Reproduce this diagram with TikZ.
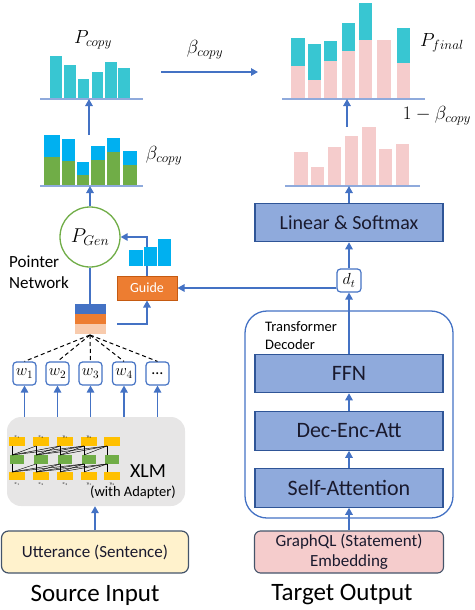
\RequirePackage{fix-cm}
\documentclass[tikz,border=0pt]{standalone}
\usepackage{fontspec}
\setmainfont{Carlito}
\usetikzlibrary{arrows.meta,calc}
\definecolor{ablue}{HTML}{4472C4}
\definecolor{boxfill}{HTML}{8FAADC}
\definecolor{boxline}{HTML}{2F5597}
\definecolor{tealc}{HTML}{38C6D2}
\definecolor{skyc}{HTML}{00B0F0}
\definecolor{greenc}{HTML}{70AD47}
\definecolor{pinkc}{HTML}{F5CCCC}
\definecolor{axisc}{HTML}{8FAADC}
\definecolor{orangec}{HTML}{ED7D31}
\definecolor{orangeline}{HTML}{C55A11}
\definecolor{peachc}{HTML}{F8CBAD}
\definecolor{yellowc}{HTML}{FFC000}
\definecolor{uttfill}{HTML}{FFF2CC}
\definecolor{slatec}{HTML}{44546A}
\definecolor{grayc}{HTML}{E7E6E6}
\definecolor{textc}{HTML}{1A1A2E}
\newcommand\fs[2]{\fontsize{#1}{#2}\selectfont}
\tikzset{
  arr/.style={draw=ablue, line width=1.4pt, -{Triangle[width=7.5pt,length=7pt]}},
  plain/.style={draw=ablue, line width=1.4pt},
  axisline/.style={draw=axisc, line width=1.3pt},
  layerbox/.style={draw=boxline, fill=boxfill, line width=1.1pt, minimum width=188pt, minimum height=38.5pt, inner sep=0pt, text=textc},
  wbox/.style={draw=ablue, fill=white, line width=1.2pt, rounded corners=3.5pt, minimum width=23pt, minimum height=23pt, inner sep=0pt, font=\fs{16}{18}},
  mlab/.style={inner sep=0pt, font=\fs{19}{22}},
  dashln/.style={draw=black, line width=1pt, dash pattern=on 4pt off 3pt},
  tiny/.style={inner sep=0pt, font=\fs{4}{5}},
}
\begin{document}
\begin{tikzpicture}[x=1pt,y=-1pt]
\useasboundingbox (0,0) rectangle (474,610);

% ---------------- charts ----------------
% P_copy (teal)
\foreach \a/\b/\t in {50/62/56,64/76/65,78/89/79,92/103/72,105/117/62,118/130/68}
  \fill[tealc] (\a,\t) rectangle (\b,99);
\draw[axisline] (40,99) -- (143,99);
\coordinate (copyaxis) at (89,99);
\node[mlab] (pcopylab) at (93,40) {$P_{copy}$};

% stacked (green + blue)
\foreach \a/\b/\g/\t in {44/60/157/135,62/75/161/139,77/89/175/162,91/105/160/146,107/120/152/138,123/137/165/151}{
  \fill[skyc] (\a,\t) rectangle (\b,\g);
  \fill[greenc] (\a,\g) rectangle (\b,186);
}
\draw[axisline] (40,186) -- (143,186);
\coordinate (stackaxis) at (90,186);
\coordinate (stacktop) at (89,135);
\node[mlab] (betalab) at (164,156) {$\beta_{copy}$};

% final (pink + teal)
\foreach \a/\b/\p/\t in {291/305/66/38,308/321/80/44,324/337/61/41,342/355/51/23,359/372/40/3,377/391/40/40,397/410/63/28}{
  \fill[tealc] (\a,\t) rectangle (\b,\p);
  \fill[pinkc] (\a,\p) rectangle (\b,99);
}
\draw[axisline] (282,99) -- (425,99);
\coordinate (finalaxis) at (347,99);
\coordinate (finalleft) at (258,72);
\coordinate (copyright) at (161,72);
\node[mlab] (pfinallab) at (442,43) {$P_{final}$};

% pink (generation)
\foreach \a/\b/\t in {294/308/152,311/324/167,328/341/147,345/358/136,362/376/127,379/392/149,396/409/144}
  \fill[pinkc] (\a,\t) rectangle (\b,186);
\draw[axisline] (285,186) -- (420,186);
\coordinate (pinktop) at (347,127);
\node[mlab] (onemlab) at (437,116) {$1-\beta_{copy}$};

\node[mlab] (betatoplab) at (205,50) {$\beta_{copy}$};

\draw[arr] (copyright) -- (finalleft);
\draw[arr] (stacktop) -- (copyaxis);
\draw[arr] (pinktop) -- (finalaxis);

% ---------------- right column ----------------
\node[layerbox, font=\fs{20}{24}] (lin) at (349,222.5) {Linear \& Softmax};
\node[wbox, minimum width=24pt] (dt) at (349,280.5) {$d_t$};
\node[draw=ablue, line width=1.3pt, rounded corners=22pt, minimum width=208pt, minimum height=207pt] (dec) at (349,414.5) {};
\node[align=left, anchor=north west, inner sep=0pt, font=\fs{14.5}{18}] (tdlab) at (265,321) {Transformer\\Decoder};
\node[layerbox, font=\fs{22}{26}] (ffn) at (349,373.5) {FFN};
\node[layerbox, font=\fs{22}{26}] (dea) at (349,431) {Dec-Enc-Att};
\node[layerbox, font=\fs{22}{26}] (sat) at (349,488) {Self-Attention};
\node[draw=slatec, fill=pinkc, rounded corners=6pt, line width=1.1pt, minimum width=189pt, minimum height=42pt, inner sep=0pt, align=center, font=\fs{17}{20}, text=textc] (gql) at (349,552) {GraphQL (Statement)\\Embedding};
\node[font=\fs{25}{30}] (tgt) at (342,595) {Target Output};

\draw[arr] (gql.north) -- (sat.south);
\draw[arr] (sat.north) -- (dea.south);
\draw[arr] (dea.north) -- (ffn.south);
\draw[arr] (ffn.north) -- (dt.south);
\draw[arr] (dt.north) -- (lin.south);
\draw[arr] (lin.north) -- (lin.north |- stackaxis);

% ---------------- left column ----------------
\node[draw=greenc, fill=white, circle, line width=1.3pt, minimum size=60pt, inner sep=0pt, font=\fs{20}{22}] (pgen) at (90,237) {$P_{Gen}$};
\node[align=left, anchor=west, inner sep=0pt, font=\fs{17}{21}] (ptr) at (9,272.5) {Pointer\\Network};
\node[draw=orangeline, fill=orangec, line width=1pt, minimum width=60pt, minimum height=24pt, inner sep=0pt, text=white, font=\fs{14}{16}] (guide) at (147,288) {Guide};

\draw[arr] (pgen.north) -- (stackaxis);
\draw[arr] (guide.north) |- (pgen.east);
% bar icon
\fill[skyc] (129,250) rectangle (143,266);
\fill[skyc] (143,247) rectangle (157,266);
\fill[skyc] (157,239) rectangle (171,266);
\draw[white, line width=0.8pt] (143,247) -- (143,266) (157,239) -- (157,266);

\draw[arr] (dt.west |- guide.east) -- (guide.east);

% hidden state block
\fill[ablue] (75,304) rectangle (106,314);
\fill[orangec] (75,314) rectangle (106,324);
\fill[peachc] (75,324) rectangle (106,334);
\coordinate (hidtop) at (90,304);
\coordinate (hidbot) at (90,335);
\coordinate (hidright) at (117,324);
\draw[plain] (pgen.south) -- (hidtop);
\draw[arr] (hidright) -| (guide.south);

% word nodes
\foreach \i/\x/\t in {1/24.5/$w_1$,2/57.5/$w_2$,3/90.5/$w_3$,4/124/$w_4$,5/157.5/…}
  \node[wbox] (w\i) at (\x,373.5) {\t};
\foreach \i in {1,...,5}
  \draw[dashln] (hidbot) -- (w\i.north);

% XLM
\node[fill=grayc, rounded corners=14pt, minimum width=178pt, minimum height=89pt, inner sep=0pt] (xlm) at (96,461.5) {};
\foreach \i in {1,...,5}
  \draw[arr] (w\i.south |- xlm.north) -- (w\i.south);
% internals
\foreach \cx in {17,41,65,89,112}{
  \fill[yellowc] (\cx-8,437) rectangle (\cx+8,446);
  \fill[greenc] (\cx-7,455) rectangle (\cx+7,464);
  \fill[yellowc] (\cx-8,472) rectangle (\cx+8,480);
}
\foreach \ca/\cb in {17/41,17/65,17/89,41/65,41/89,41/112,65/89,65/112,89/112}{
  \draw[black, line width=0.45pt] (\ca-5,455) -- (\cb-5,446);
  \draw[black, line width=0.45pt] (\ca-5,472) -- (\cb-5,464);
}
\foreach \cx in {17,41,65,89,112}{
  \draw[black, line width=0.45pt] (\cx-5,455) -- (\cx-5,446);
  \draw[black, line width=0.45pt] (\cx-5,472) -- (\cx-5,464);
}
\foreach \cx/\t in {17/$x_1$,41/$x_2$,65/$y_1$,89/$y_2$}
  \node[tiny] at (\cx,437) {\t};
\foreach \cx/\t in {17/$x_1$,41/$x_2$,65/$x_3$,89/$y_1$,112/$y_2$}
  \node[tiny] at (\cx,484) {\t};
\node[inner sep=0pt, font=\fs{20}{24}] (xlmlab) at (148,471) {XLM};
\node[inner sep=0pt, font=\fs{14.5}{17}] (adlab) at (133,492) {(with Adapter)};

\node[draw=slatec, fill=uttfill, rounded corners=7pt, line width=1.2pt, minimum width=187pt, minimum height=42pt, inner sep=0pt, font=\fs{17}{20}, text=textc] (utt) at (95,552) {Utterance (Sentence)};
\draw[arr] (utt.north) -- (utt.north |- xlm.south);
\node[font=\fs{25}{30}] (src) at (95,595) {Source Input};
\end{tikzpicture}
\end{document}
